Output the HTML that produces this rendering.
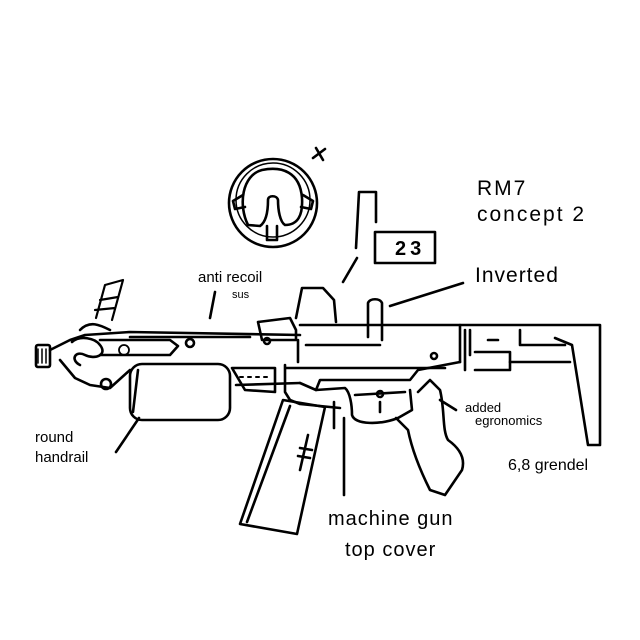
<!DOCTYPE html>
<html><head><meta charset="utf-8"><style>
html,body{margin:0;padding:0;background:#fff}
svg{display:block}
text{font-family:"Liberation Sans",sans-serif;fill:#000}
</style></head><body>
<svg width="640" height="640" viewBox="0 0 640 640" xmlns="http://www.w3.org/2000/svg">
<rect width="640" height="640" fill="#fff"/>
<g fill="none" stroke="#000" stroke-width="2.6" stroke-linecap="round" stroke-linejoin="round">
<!-- scope rear view -->
<circle cx="273" cy="203" r="44"/>
<circle cx="273" cy="200" r="37" stroke-width="1.5"/>
<path d="M248 225 C238 205 242 175 262 170 C282 166 300 172 302 198 C303 215 298 225 285 225 C280 222 278 210 278 200 C277 195 268 195 268 200 C268 212 266 222 260 226 Z"/>
<path d="M243 195 l-10 6 l2 8 l10 -2 M303 195 l10 6 l-2 8 l-10 -2"/>
<path d="M267 226 v14 h10 v-14"/>
<path d="M313 158 l12 -9 M316 148 l7 12"/>
<!-- rear sight post + 23 box -->
<path d="M356 248 L359 192 L376 192 L376 222"/>
<rect x="375" y="232" width="60" height="31"/>
<path d="M357 258 L343 282"/>
<!-- leader lines -->
<path d="M463 283 L390 306"/>
<path d="M215 292 L210 318"/>
<path d="M139 418 L116 452"/>
<path d="M440 400 L456 410"/>
<path d="M344 418 L344 495"/>
<!-- muzzle -->
<rect x="36" y="345" width="14" height="22" rx="2"/>
<path d="M38 349 v14 M42 349 v14 M46 349 v14" stroke-width="1.5"/>
<!-- front end -->
<path d="M50 350 L70 340 L85 335 L130 332 L300 335"/>
<path d="M60 360 L75 378 L90 385 L110 388 L130 370"/>
<path d="M72 342 C80 335 95 338 100 345 C108 355 95 360 85 355 C75 350 70 360 80 365"/>
<path d="M100 340 L170 340 L178 346 L170 355 L100 355"/>
<circle cx="190" cy="343" r="4"/>
<circle cx="106" cy="384" r="5"/>
<circle cx="124" cy="350" r="5" stroke-width="1.8"/>
<!-- front sight -->
<path d="M96 318 L105 285 L123 280 L112 320 M100 300 L118 297 M95 310 L115 308" stroke-width="2.2"/>
<path d="M80 330 C90 320 100 325 110 330"/>
<!-- top rail -->
<path d="M130 337 L250 337 M258 322 L290 318 L296 330 L296 340 L262 340 L258 322"/>
<path d="M300 325 L460 325 L460 362"/>
<path d="M296 318 L302 288 L323 288 L334 300 L336 322"/>
<circle cx="267" cy="341" r="3"/>
<path d="M306 345 L380 345 M298 340 L298 362"/>
<path d="M368 337 L368 303 C370 298 380 298 382 303 L382 340"/>
<circle cx="434" cy="356" r="3"/>
<!-- receiver body -->
<path d="M236 385 L300 383 M286 368 L445 368"/>
<path d="M285 365 L285 392 L290 400 L300 404 L340 408"/>
<path d="M232 368 L275 368 L275 392 L245 390 Z"/>
<path d="M240 377 h3 M248 377 h3 M256 377 h3 M264 377 h3" stroke-width="2"/>
<path d="M300 383 L316 390 L320 380 L410 380 L418 370 L460 362"/>
<circle cx="380" cy="394" r="3"/>
<!-- handguard -->
<rect x="130" y="364" width="100" height="56" rx="12"/>
<path d="M138 370 L133 412"/>
<!-- magazine -->
<path d="M283 400 L325 407 L297 534 L240 524 Z"/>
<path d="M290 406 L247 522"/>
<path d="M308 435 L300 470 M300 448 L312 450 M298 456 L310 458"/>
<!-- trigger guard & trigger -->
<path d="M316 390 L345 388 C350 392 352 405 352 415 C355 425 380 425 398 418 L412 410 L410 390"/>
<path d="M355 395 L405 392"/>
<path d="M380 402 L380 412"/>
<path d="M334 402 L334 428"/>
<!-- grip -->
<path d="M418 392 L430 380 L440 390 C445 410 442 430 448 440 C462 450 465 460 462 470 L445 495 L430 490 C420 470 412 450 408 430 L396 418"/>
<!-- stock -->
<path d="M460 325 L600 325 L600 445 L588 445 L572 345 L555 338"/>
<path d="M465 330 L465 370 M470 330 L470 355"/>
<path d="M475 352 L510 352 L510 370 L475 370"/>
<path d="M510 362 L570 362"/>
<path d="M520 330 L520 345 L565 345"/>
<path d="M488 340 L498 340"/>
</g>
<g font-family="'Liberation Sans',sans-serif" fill="#000">
<text x="477" y="195" font-size="21" letter-spacing="2">RM7</text>
<text x="477" y="221" font-size="21" letter-spacing="2">concept 2</text>
<text x="395" y="255" font-size="20" font-weight="bold" letter-spacing="4">23</text>
<text x="198" y="282" font-size="15">anti recoil</text>
<text x="232" y="298" font-size="11">sus</text>
<text x="475" y="282" font-size="21" letter-spacing="1">Inverted</text>
<text x="465" y="412" font-size="13">added</text>
<text x="475" y="425" font-size="13">egronomics</text>
<text x="508" y="470" font-size="16">6,8 grendel</text>
<text x="35" y="442" font-size="15">round</text>
<text x="35" y="462" font-size="15">handrail</text>
<text x="328" y="525" font-size="20" letter-spacing="1">machine gun</text>
<text x="345" y="556" font-size="20" letter-spacing="1">top cover</text>
</g>
</svg>
</body></html>
